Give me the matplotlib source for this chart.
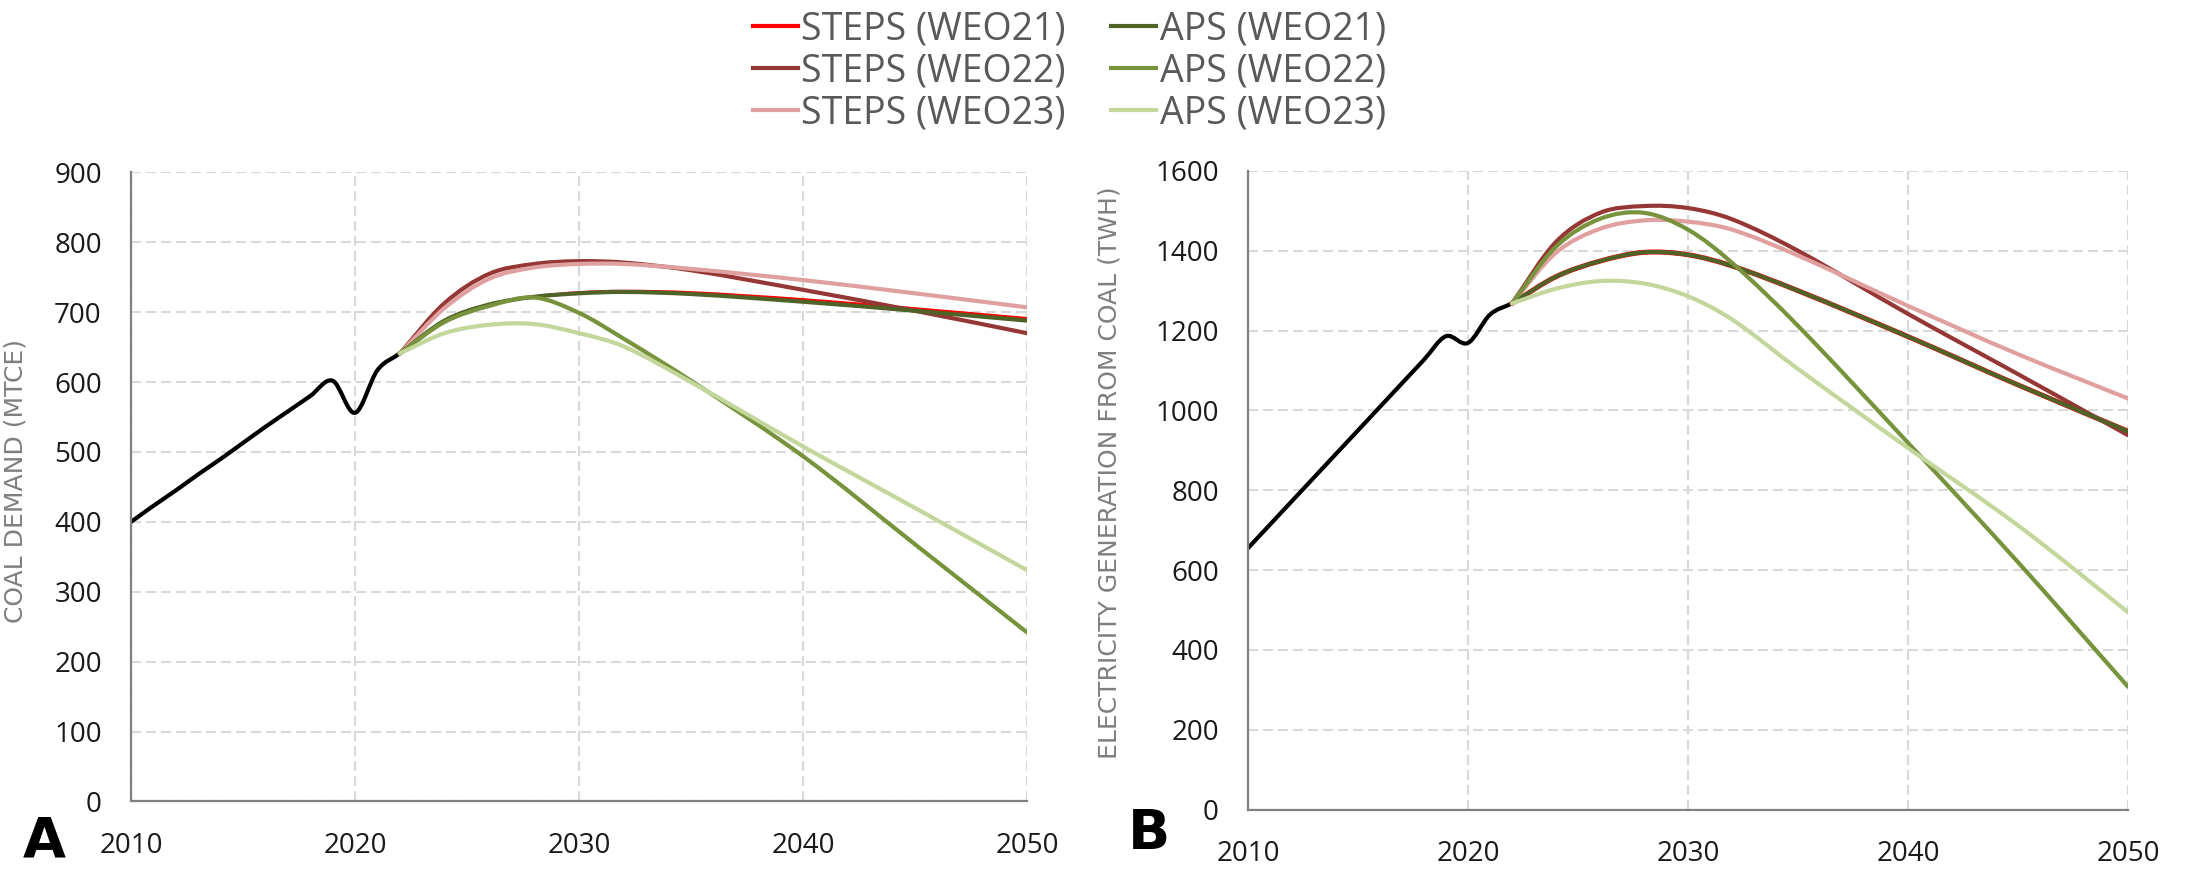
import numpy as np
import matplotlib
matplotlib.use('Agg')
import matplotlib.pyplot as plt
from matplotlib.path import Path
from matplotlib.patches import PathPatch
from matplotlib.lines import Line2D

plt.rcParams['font.family'] = ['Open Sans', 'DejaVu Sans']

##############################################################################################################################
# data

hist_years = [2010, 2011, 2012, 2013, 2014, 2015, 2016, 2017, 2018, 2019, 2020, 2021, 2022]
hist_coal = [400, 423, 445, 468, 490, 513, 536, 558, 580, 602, 556, 617, 641]
hist_power = [655, 714, 773, 832, 891, 950, 1009, 1068, 1127, 1186, 1169, 1240, 1268]

proj_years = [2022, 2024, 2026, 2028, 2030, 2032, 2035, 2040, 2045, 2050]

# coal demand (Mtce)
coal_steps21 = [641, 688, 711, 722, 728, 730, 728, 718, 705, 691]
coal_steps22 = [641, 713, 755, 769, 773, 771, 760, 732, 702, 670]
coal_steps23 = [641, 706, 748, 764, 769, 769, 762, 746, 727, 707]
coal_aps21 = [641, 688, 711, 722, 727, 729, 726, 715, 702, 688]
coal_aps22 = [641, 686, 709, 721, 699, 662, 602, 494, 368, 242]
coal_aps23 = [641, 670, 682, 683, 670, 651, 600, 508, 420, 331]

# electricity generation from coal (TWh)
power_steps21 = [1268, 1335, 1374, 1396, 1390, 1362, 1300, 1185, 1064, 948]
power_steps22 = [1268, 1422, 1495, 1512, 1507, 1479, 1400, 1242, 1091, 938]
power_steps23 = [1268, 1395, 1455, 1476, 1473, 1453, 1388, 1262, 1141, 1030]
power_aps21 = [1268, 1335, 1374, 1396, 1390, 1362, 1300, 1185, 1064, 948]
power_aps22 = [1268, 1410, 1480, 1495, 1453, 1370, 1212, 919, 620, 308]
power_aps23 = [1268, 1305, 1324, 1318, 1286, 1228, 1104, 906, 712, 495]

labels = ['STEPS (WEO21)', 'STEPS (WEO22)', 'STEPS (WEO23)',
          'APS (WEO21)', 'APS (WEO22)', 'APS (WEO23)']
colors = ['#ff0000', '#953735', '#e0a0a0', '#4f6228', '#77933c', '#c3d69b']

##############################################################################################################################
# helpers

def smooth_path(xs, ys):
    # piecewise cubic through every point, drawn as bezier segments
    x = np.asarray(xs, float)
    y = np.asarray(ys, float)
    n = len(x)
    m = np.empty(n)
    m[0] = (y[1] - y[0]) / (x[1] - x[0])
    m[-1] = (y[-1] - y[-2]) / (x[-1] - x[-2])
    m[1:-1] = (y[2:] - y[:-2]) / (x[2:] - x[:-2])
    verts = [(x[0], y[0])]
    codes = [Path.MOVETO]
    for i in range(n - 1):
        h = x[i + 1] - x[i]
        verts += [(x[i] + h / 3, y[i] + m[i] * h / 3),
                  (x[i + 1] - h / 3, y[i + 1] - m[i + 1] * h / 3),
                  (x[i + 1], y[i + 1])]
        codes += [Path.CURVE4] * 3
    return Path(verts, codes)

def draw_line(ax, xs, ys, color, lw):
    patch = PathPatch(smooth_path(xs, ys), fill=False, edgecolor=color, lw=lw,
                      capstyle='round', joinstyle='round')
    ax.add_patch(patch)

def style_axes(ax, ymax, ystep, ylabel):
    ax.set_xlim(2010, 2050)
    ax.set_ylim(0, ymax)
    ax.set_xticks([2010, 2020, 2030, 2040, 2050])
    ax.set_yticks(np.arange(0, ymax + 1, ystep))
    ax.grid(True, color='#d9d9d9', linestyle=(0, (4.8, 2.4)), linewidth=1.5)
    ax.set_axisbelow(True)
    for s in ['top', 'right']:
        ax.spines[s].set_visible(False)
    for s in ['left', 'bottom']:
        ax.spines[s].set_color('#808080')
        ax.spines[s].set_linewidth(1.6)
    ax.tick_params(axis='both', length=0, labelsize=20, colors='#1a1a1a')
    ax.tick_params(axis='y', pad=21)
    ax.tick_params(axis='x', pad=22)
    ax.set_ylabel(ylabel, color='#7f7f7f', fontsize=18, family='DejaVu Sans')

##############################################################################################################################
# plot

fig = plt.figure(figsize=(21.91, 8.69), dpi=100)
ax1 = fig.add_axes([0.0598, 0.0777, 0.4089, 0.7239])
ax2 = fig.add_axes([0.5696, 0.0684, 0.4016, 0.7349])

coal = [coal_steps21, coal_steps22, coal_steps23, coal_aps21, coal_aps22, coal_aps23]
power = [power_steps21, power_steps22, power_steps23, power_aps21, power_aps22, power_aps23]

# STEPS (WEO21) sits right under APS (WEO21) in panel B, a wider stroke leaves a red rim
for ax, series, hist, red_lw in [(ax1, coal, hist_coal, 2.2), (ax2, power, hist_power, 3.6)]:
    draw_line(ax, hist_years, hist, 'black', 3)
    widths = [red_lw, 3, 3, 3, 3, 3]
    for vals, c, lw in zip(series, colors, widths):
        draw_line(ax, proj_years, vals, c, lw)

style_axes(ax1, 900, 100, 'COAL DEMAND (MTCE)')
style_axes(ax2, 1600, 200, 'ELECTRICITY GENERATION FROM COAL (TWH)')
ax1.yaxis.set_label_coords(-0.115, 0.51)
ax2.yaxis.set_label_coords(-0.144, 0.527)

# panel letters
fig.text(0.020, 0.032, 'A', fontsize=40, fontweight='bold', family='DejaVu Sans',
         ha='center', va='center')
fig.text(0.5244, 0.040, 'B', fontsize=40, fontweight='bold', family='DejaVu Sans',
         ha='center', va='center')

# legend
handles = [Line2D([], [], color=c, lw=3) for c in colors]
legend = fig.legend(handles, labels, ncol=2, loc='center', bbox_to_anchor=(0.488, 0.918),
                    frameon=False, fontsize=27, handlelength=1.2, handletextpad=0.1,
                    columnspacing=1.2, labelspacing=0.1)
for t in legend.get_texts():
    t.set_color('#595959')

fig.savefig('out.png', dpi=100)
